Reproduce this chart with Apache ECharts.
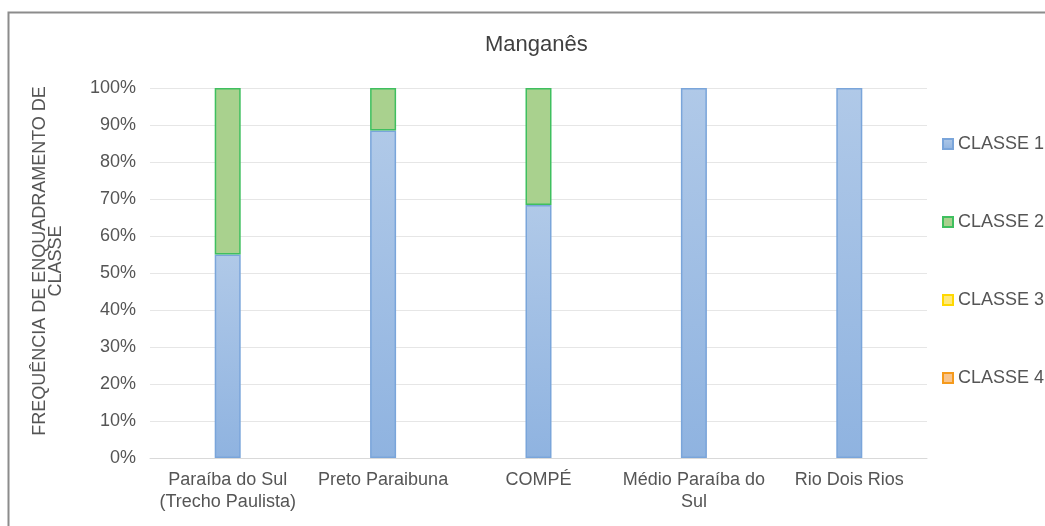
<!DOCTYPE html>
<html>
<head>
<meta charset="utf-8">
<script src="https://cdn.jsdelivr.net/npm/echarts@6/dist/echarts.min.js"></script>
<style>
html, body { margin: 0; padding: 0; background: #fff; }
#chart { width: 1045px; height: 526px; }
</style>
</head>
<body>
<div id="chart"></div>
<script>
var categories = ['Paraíba do Sul\n(Trecho Paulista)', 'Preto Paraibuna', 'COMPÉ', 'Médio Paraíba do\nSul', 'Rio Dois Rios'];
var classe1 = [55, 88.5, 68.4, 100, 100];
var classe2 = [45, 11.5, 31.6, 0, 0];
var classe3 = [0, 0, 0, 0, 0];
var classe4 = [0, 0, 0, 0, 0];
var yTicks = [0, 10, 20, 30, 40, 50, 60, 70, 80, 90, 100];

var myChart = echarts.init(document.getElementById('chart'));

function grad(top, bottom) {
    return new echarts.graphic.LinearGradient(0, 0, 0, 1, [
        {offset: 0, color: top},
        {offset: 1, color: bottom}
    ]);
}

// zero values are not drawn (otherwise their border shows as a line)
function noZero(arr) {
    return arr.map(function (v) { return v === 0 ? null : v; });
}

var txt = '#555555';
var font = 'Liberation Sans, Arial, sans-serif';

var option = {
    backgroundColor: '#fff',
    textStyle: {fontFamily: font},
    graphic: [{
        type: 'rect',
        shape: {x: 8.5, y: 12.5, width: 1100, height: 600},
        style: {fill: 'none', stroke: '#8c8c8c', lineWidth: 2},
        silent: true
    }],
    title: {
        text: 'Manganês',
        left: 480,
        top: 29,
        textStyle: {fontSize: 22, fontWeight: 'normal', color: '#404040', fontFamily: font}
    },
    legend: {
        orient: 'vertical',
        left: 937,
        top: 130,
        itemGap: 60,
        itemWidth: 10,
        itemHeight: 10,
        icon: 'rect',
        textStyle: {fontSize: 18, lineHeight: 18, color: txt, fontFamily: font},
        data: ['CLASSE 1', 'CLASSE 2', 'CLASSE 3', 'CLASSE 4']
    },
    grid: {
        left: 150,
        right: 118,
        top: 88,
        bottom: 68
    },
    xAxis: {
        type: 'category',
        data: categories,
        axisTick: {show: false},
        axisLine: {lineStyle: {color: '#d9d9d9'}},
        axisLabel: {fontSize: 18, color: txt, margin: 11, lineHeight: 22, interval: 0, fontFamily: font}
    },
    yAxis: {
        type: 'value',
        min: yTicks[0],
        max: yTicks[yTicks.length - 1],
        interval: 10,
        name: 'FREQUÊNCIA DE ENQUADRAMENTO DE\nCLASSE',
        nameLocation: 'middle',
        nameRotate: 90,
        nameGap: 86,
        nameTextStyle: {fontSize: 18, color: txt, lineHeight: 16, fontFamily: font, padding: [0, 0, 0, 24]},
        axisLine: {show: false},
        axisTick: {show: false},
        splitLine: {lineStyle: {color: '#e6e6e6'}},
        axisLabel: {fontSize: 18, color: txt, margin: 14, formatter: '{value}%', fontFamily: font}
    },
    series: [
        {
            name: 'CLASSE 1', type: 'bar', stack: 'total', barWidth: 26,
            itemStyle: {color: grad('#b0c9e8', '#8fb3e0'), borderColor: '#7aa5da', borderWidth: 1.5},
            data: noZero(classe1)
        },
        {
            name: 'CLASSE 2', type: 'bar', stack: 'total', barWidth: 26,
            itemStyle: {color: '#a9d18e', borderColor: '#3fbf5f', borderWidth: 1.5},
            data: noZero(classe2)
        },
        {
            name: 'CLASSE 3', type: 'bar', stack: 'total', barWidth: 26,
            itemStyle: {color: '#ffe97a', borderColor: '#ffd800', borderWidth: 1.5},
            data: noZero(classe3)
        },
        {
            name: 'CLASSE 4', type: 'bar', stack: 'total', barWidth: 26,
            itemStyle: {color: '#f8c48c', borderColor: '#f59a1c', borderWidth: 1.5},
            data: noZero(classe4)
        }
    ]
};
myChart.setOption(option);
</script>
</body>
</html>
